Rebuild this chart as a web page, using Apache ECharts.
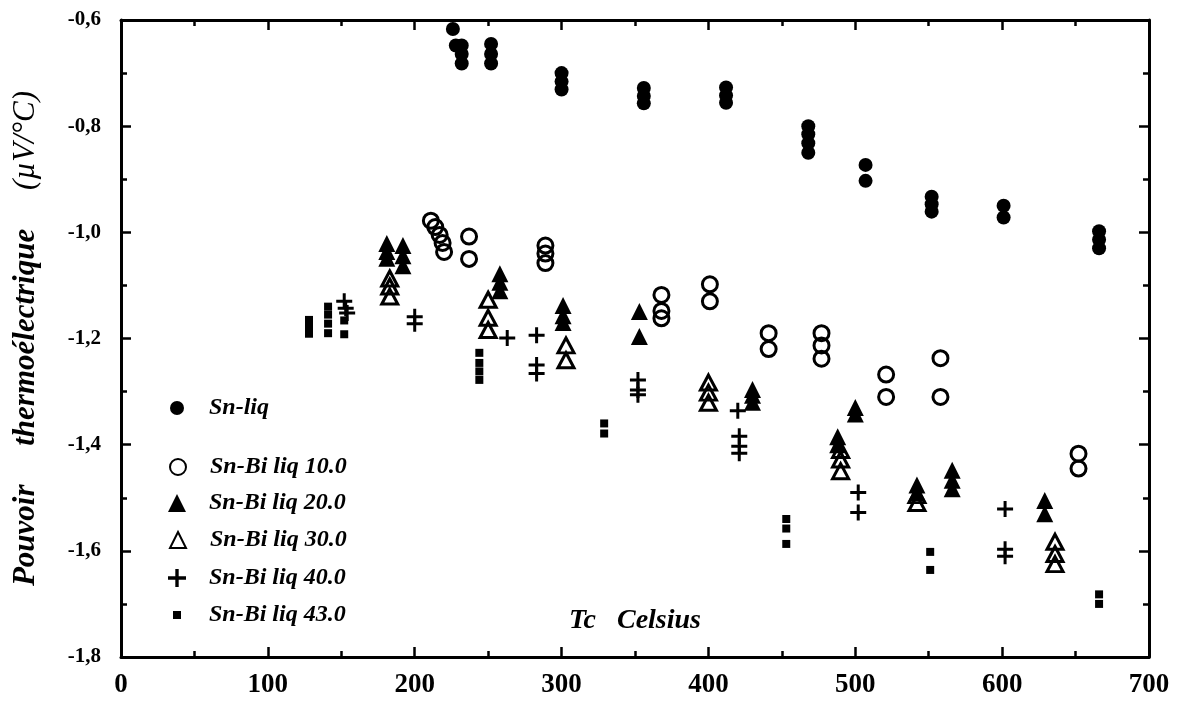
<!DOCTYPE html>
<html>
<head>
<meta charset="utf-8">
<script src="https://cdn.jsdelivr.net/npm/echarts@6/dist/echarts.min.js"></script>
<style>html,body{margin:0;padding:0;background:#fff}#c{width:1186px;height:701px}</style>
</head>
<body>
<div id="c"></div>
<script>
// Tc (Celsius), Pouvoir thermoélectrique (µV/°C)
const snLiq = [[226,-0.617],[228,-0.648],[232,-0.648],[232,-0.664],[232,-0.682],
  [252,-0.645],[252,-0.664],[252,-0.682],
  [300,-0.700],[300,-0.716],[300,-0.731],
  [356,-0.728],[356,-0.743],[356,-0.757],
  [412,-0.727],[412,-0.742],[412,-0.756],
  [468,-0.800],[468,-0.815],[468,-0.832],[468,-0.850],
  [507,-0.873],[507,-0.903],
  [552,-0.933],[552,-0.947],[552,-0.961],
  [601,-0.950],[601,-0.972],
  [666,-0.998],[666,-1.014],[666,-1.030]];
const snBi10 = [[211,-0.978],[214,-0.990],[217,-1.005],[219,-1.020],[220,-1.037],
  [237,-1.008],[237,-1.050],
  [289,-1.025],[289,-1.040],[289,-1.058],
  [368,-1.118],[368,-1.148],[368,-1.162],
  [401,-1.098],[401,-1.130],
  [441,-1.190],[441,-1.220],
  [477,-1.190],[477,-1.213],[477,-1.238],
  [521,-1.268],[521,-1.310],
  [558,-1.237],[558,-1.310],
  [652,-1.417],[652,-1.445]];
const snBi20 = [[181,-1.021],[181,-1.036],[181,-1.049],
  [192,-1.025],[192,-1.044],[192,-1.063],
  [258,-1.078],[258,-1.094],[258,-1.110],
  [301,-1.138],[301,-1.157],[301,-1.170],
  [353,-1.149],[353,-1.196],
  [430,-1.296],[430,-1.307],[430,-1.320],
  [500,-1.330],[500,-1.342],
  [488,-1.385],[488,-1.400],
  [542,-1.476],[542,-1.490],
  [566,-1.448],[566,-1.467],[566,-1.483],
  [629,-1.505],[629,-1.530]];
const snBi30 = [[183,-1.087],[183,-1.102],[183,-1.121],
  [250,-1.127],[250,-1.161],[250,-1.184],
  [303,-1.213],[303,-1.241],
  [400,-1.283],[400,-1.302],[400,-1.321],
  [490,-1.410],[490,-1.428],[490,-1.450],
  [542,-1.495],[542,-1.510],
  [636,-1.583],[636,-1.606],[636,-1.625]];
const snBi40 = [[152,-1.130],[153,-1.143],[154,-1.152],
  [200,-1.159],[200,-1.172],
  [263,-1.199],
  [283,-1.194],[283,-1.250],[283,-1.266],
  [352,-1.278],[352,-1.297],[352,-1.306],
  [420,-1.336],[421,-1.384],[421,-1.403],[421,-1.416],
  [502,-1.490],[502,-1.528],
  [602,-1.521],[602,-1.597],[602,-1.610]];
const snBi43 = [[128,-1.165],[128,-1.178],[128,-1.191],
  [141,-1.140],[141,-1.155],[141,-1.172],[141,-1.190],
  [152,-1.166],[152,-1.192],
  [244,-1.227],[244,-1.246],[244,-1.262],[244,-1.278],
  [329,-1.360],[329,-1.379],
  [453,-1.540],[453,-1.558],[453,-1.587],
  [551,-1.602],[551,-1.636],
  [666,-1.682],[666,-1.700]];
const seriesNames = ['Sn-liq','Sn-Bi liq 10.0','Sn-Bi liq 20.0','Sn-Bi liq 30.0','Sn-Bi liq 40.0','Sn-Bi liq 43.0'];
const xTitle = 'Tc   Celsius';
const yTitle = 'Pouvoir     thermoélectrique     {u|(µV/°C)}';

const FONT = 'Liberation Serif';
const PLUS = 'path://M6.5,0H9.5V6.5H16V9.5H9.5V16H6.5V9.5H0V6.5H6.5Z';
const CLEAR = 'rgba(255,255,255,0)';

const styles = [
  {symbol:'circle', size:14, item:{color:'#000', opacity:1}, leg:14},
  {symbol:'circle', size:15, item:{color:CLEAR, borderColor:'#000', borderWidth:3, opacity:1}, leg:16},
  {symbol:'triangle', size:17, item:{color:'#000', opacity:1}, leg:18},
  {symbol:'triangle', size:[16,15], item:{color:CLEAR, borderColor:'#000', borderWidth:3, opacity:1}, leg:16},
  {symbol:PLUS, size:16, item:{color:'#000', opacity:1}, leg:18},
  {symbol:'rect', size:8, item:{color:'#000', opacity:1}, leg:8}
];
const datasets = [snLiq, snBi10, snBi20, snBi30, snBi40, snBi43];
const legendRows = [403, 462, 498, 535, 573, 610];

const series = datasets.map((d, i) => ({
  name: seriesNames[i], type: 'scatter', data: d,
  symbol: styles[i].symbol, symbolSize: styles[i].size,
  itemStyle: styles[i].item, emphasis: {disabled: true}, animation: false
}));

const legends = seriesNames.map((n, i) => {
  const s = styles[i].leg;
  return {
    data: [n], left: 172 - s / 2, top: legendRows[i] - 13,
    itemWidth: s, itemHeight: s, selectedMode: false,
    textStyle: {fontFamily: FONT, fontSize: 24, fontStyle: 'italic', fontWeight: 'bold', color: '#000',
      padding: [0, 0, 0, 27 - s / 2], lineHeight: 26}
  };
});

const tickCommon = {
  axisLine: {show: true, onZero: false, lineStyle: {color: '#000', width: 3}},
  axisTick: {show: true, inside: true, length: 10, lineStyle: {color: '#000', width: 2.5}},
  minorTick: {show: true, splitNumber: 2, length: 6, lineStyle: {color: '#000', width: 2.5}},
  splitLine: {show: false}
};

const option = {
  backgroundColor: '#fff',
  animation: false,
  grid: {left: 121, right: 37, top: 20, bottom: 44},
  legend: legends,
  xAxis: [
    Object.assign({type: 'value', min: 0, max: 700, interval: 100, position: 'bottom',
      name: xTitle, nameLocation: 'middle', nameGap: -50,
      nameTextStyle: {fontFamily: FONT, fontSize: 28, fontStyle: 'italic', fontWeight: 'bold', color: '#000'},
      axisLabel: {fontFamily: FONT, fontSize: 27, fontWeight: 'bold', color: '#000', margin: 15}}, tickCommon),
    Object.assign({type: 'value', min: 0, max: 700, interval: 100, position: 'top',
      axisLabel: {show: false}}, tickCommon)
  ],
  yAxis: [
    Object.assign({type: 'value', min: -1.8, max: -0.6, interval: 0.2, position: 'left',
      name: yTitle, nameLocation: 'middle', nameGap: 80,
      nameTextStyle: {fontFamily: FONT, fontSize: 31, fontStyle: 'italic', fontWeight: 'bold', color: '#000',
        rich: {u: {fontFamily: FONT, fontSize: 31, fontStyle: 'italic', fontWeight: 'normal', color: '#000'}}},
      axisLabel: {fontFamily: FONT, fontSize: 21, fontWeight: 'bold', color: '#000', margin: 20,
        formatter: v => v.toFixed(1).replace('.', ',')}}, tickCommon),
    Object.assign({type: 'value', min: -1.8, max: -0.6, interval: 0.2, position: 'right',
      axisLabel: {show: false}}, tickCommon)
  ],
  series: series
};

const chart = echarts.init(document.getElementById('c'), null, {renderer: 'canvas'});
chart.setOption(option);
</script>
</body>
</html>
